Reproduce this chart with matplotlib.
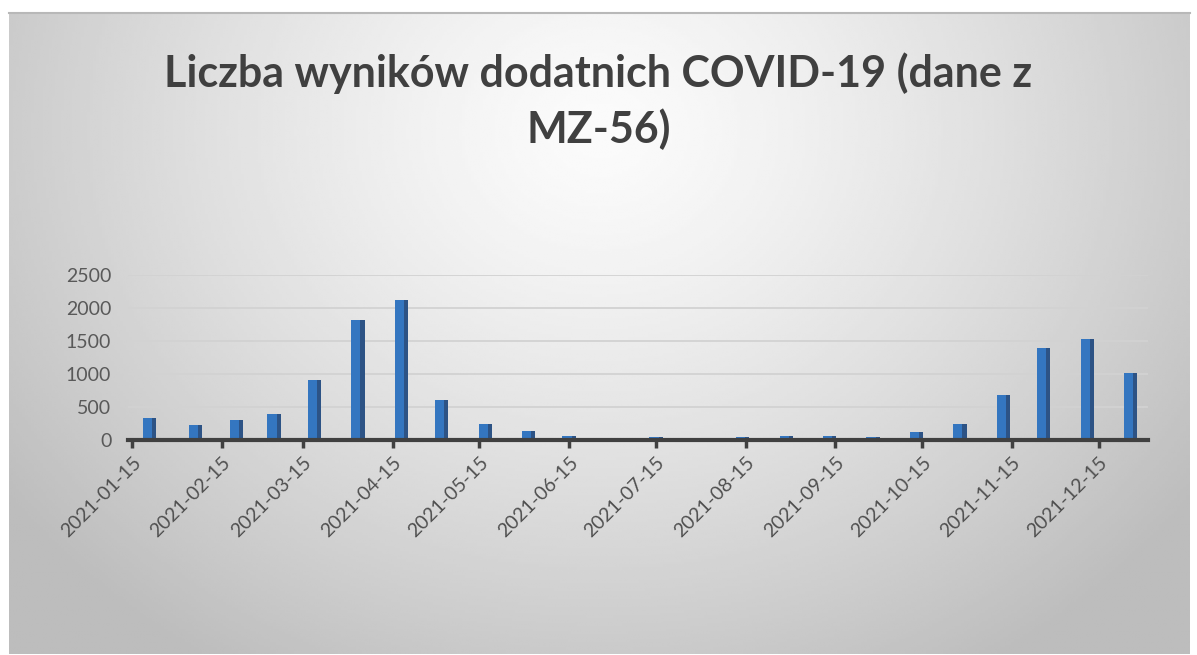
import numpy as np
import pandas as pd
import matplotlib
matplotlib.use("Agg")
import matplotlib.pyplot as plt
import matplotlib.dates as mdates

# values (half-monthly totals)
dates = ["2021-01-21", "2021-02-06", "2021-02-20", "2021-03-05", "2021-03-19",
         "2021-04-03", "2021-04-18", "2021-05-02", "2021-05-17", "2021-06-01",
         "2021-06-15", "2021-06-30", "2021-07-15", "2021-07-30", "2021-08-14",
         "2021-08-29", "2021-09-13", "2021-09-28", "2021-10-13", "2021-10-28",
         "2021-11-12", "2021-11-26", "2021-12-11", "2021-12-26"]
cases = [340, 225, 300, 395, 905,
         1820, 2120, 610, 240, 130,
         60, 35, 45, 35, 40,
         55, 55, 45, 120, 240,
         680, 1390, 1530, 1010]
yticks = [0, 500, 1000, 1500, 2000, 2500]
title = "Liczba wyników dodatnich COVID-19 (dane z\nMZ-56)"

plt.rcParams['font.family'] = ['Lato', 'DejaVu Sans']

x = pd.to_datetime(dates)

fig = plt.figure(figsize=(11.97, 6.55), dpi=100)

# radial grey background of the chart panel
bg = fig.add_axes([0, 0, 1, 1], zorder=-10)
bg.set_xlim(0, 1197)
bg.set_ylim(655, 0)
bg.axis('off')
gx, gy = np.meshgrid(np.linspace(9, 1190, 400), np.linspace(12, 654, 240))
r = np.sqrt(((gx - 600) / 700) ** 2 + ((gy - 130) / 600) ** 2)
shade = np.clip(0.985 - 0.23 * r ** 1.3, 0.74, 1.0)
bg.imshow(shade, cmap='gray', vmin=0, vmax=1, extent=(9, 1190, 654, 12),
          aspect='auto', interpolation='bilinear')
bg.plot([9, 1190], [12.5, 12.5], color='#b8b8b8', lw=1.5)

ax = fig.add_axes([128 / 1197, 215 / 655, 1020 / 1197, 165 / 655])
ax.set_facecolor('none')

# front face plus darker side to hint at the 3D columns
ax.bar(x, cases, width=4.6, color='#3476c0', zorder=3)
ax.bar(x + pd.Timedelta(days=1.6), cases, width=1.4, color='#2d5385', zorder=4)

ax.set_ylim(0, 2500)
ax.set_yticks(yticks)
ax.set_xlim(mdates.datestr2num("2021-01-13 14:00"), mdates.datestr2num("2022-01-01"))
ax.xaxis.set_major_locator(mdates.MonthLocator(bymonthday=15))
ax.xaxis.set_major_formatter(mdates.DateFormatter('%Y-%m-%d'))

ax.grid(axis='y', color='#d2d2d2', lw=1.3, zorder=0)
for s in ['top', 'right', 'left']:
    ax.spines[s].set_visible(False)
ax.spines['bottom'].set_color('#404040')
ax.spines['bottom'].set_linewidth(3)
ax.spines['bottom'].set_zorder(5)

ax.tick_params(axis='y', length=0, pad=12, labelsize=14, labelcolor='#595959')
ax.tick_params(axis='x', length=6, width=2.5, color='#404040', pad=4,
               labelsize=14, labelcolor='#505050')
for lbl in ax.get_xticklabels():
    lbl.set_rotation(45)
    lbl.set_ha('right')
    lbl.set_rotation_mode('anchor')

fig.text(0.5, 1 - 101 / 655, title, ha='center', va='center', fontsize=31,
         fontweight='bold', color='#404040', linespacing=1.4)

fig.savefig("out.png", dpi=100)
